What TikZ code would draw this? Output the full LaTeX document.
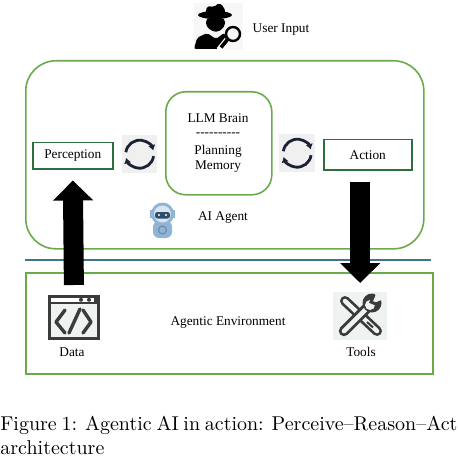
\documentclass[tikz,border=0pt]{standalone}
\usepackage{fontspec}
\usepackage{tikz}
\usetikzlibrary{positioning,arrows.meta}
\newfontfamily\figfont{Liberation Serif}
\definecolor{agentgreen}{HTML}{6BAA4C}
\definecolor{labelgreen}{HTML}{2F6E3E}
\definecolor{linkblue}{HTML}{3F7391}
\definecolor{iconnavy}{HTML}{1B2233}
\definecolor{icongrey}{HTML}{3A3C3C}
\definecolor{iconpale}{HTML}{EEF3F2}
\definecolor{robotblue}{HTML}{8FB4D6}
\definecolor{robotdark}{HTML}{2E4C70}
\begin{document}
\begin{tikzpicture}[x=1pt, y=-1pt,
   textlabel/.style={font=\figfont\fontsize{13.3}{16}\selectfont, inner sep=0pt},
   zonebox/.style={draw=agentgreen, line width=1.6pt, rectangle, inner sep=0pt, anchor=north west},
   labelbox/.style={draw=labelgreen, line width=1.5pt, rectangle, inner sep=0pt, anchor=north west, font=\figfont\fontsize{13.3}{16}\selectfont},
   iconbox/.style={rectangle, inner sep=0pt, anchor=north west},
   bigarrow/.style={line width=20pt, -{Triangle[width=39pt,length=20pt]}},
   cycleicon/.pic={
      \draw [iconnavy, line width=2.8pt, -{Latex[width=7.5pt,length=5.5pt]}] (188:14) arc[start angle=188, end angle=345, radius=14];
      \draw [iconnavy, line width=2.8pt, -{Latex[width=7.5pt,length=5.5pt]}] (8:14) arc[start angle=8, end angle=165, radius=14];
   }
]
\useasboundingbox (0,0) rectangle (457,465);

% Zones
\node [zonebox, rounded corners=30pt, minimum width=398pt, minimum height=188pt] (agentzone) at (25,60) {};
\node [zonebox, minimum width=407pt, minimum height=101pt] (envzone) at (25,272) {};
\coordinate (linkleft) at (25,260);
\coordinate (linkright) at (431,260);
\draw [linkblue, line width=1.2pt] (linkleft) -- (linkright);

% Boxes
\node [zonebox, rounded corners=20pt, minimum width=106pt, minimum height=103pt] (brain) at (165,91) {};
\node [textlabel, align=center] (brainname) at (218,118) {LLM Brain};
\node [textlabel] (braindash) at (218,135) {----------};
\node [textlabel] (brainplan) at (218,151) {Planning};
\node [textlabel] (brainmem) at (218,167) {Memory};
\node [labelbox, minimum width=80pt, minimum height=26pt] (perception) at (32,142) {Perception};
\node [labelbox, minimum width=88pt, minimum height=30pt] (action) at (323,139) {Action};

% Labels
\node [textlabel] (userlabel) at (281,30) {User Input};
\node [textlabel] (agentlabel) at (223,218) {AI Agent};
\node [textlabel] (envlabel) at (228,323) {Agentic Environment};
\node [textlabel] (datalabel) at (72,352) {Data};
\node [textlabel] (toolslabel) at (361,352) {Tools};

% Icon frames
\node [iconbox, fill=black!3, minimum width=49pt, minimum height=47pt] (usericon) at (194,3) {};
\node [iconbox, fill=black!6, minimum width=35pt, minimum height=38pt] (cycleleft) at (122,135) {};
\node [iconbox, fill=black!6, minimum width=36pt, minimum height=38pt] (cycleright) at (279,134) {};
\node [iconbox, minimum width=26pt, minimum height=33pt] (roboticon) at (149,205) {};
\node [iconbox, fill=iconpale, draw=icongrey, line width=3pt, minimum width=49pt, minimum height=42pt] (dataicon) at (48,295) {};
\node [iconbox, fill=iconpale, minimum width=54pt, minimum height=48pt] (toolsicon) at (333,292) {};

% Cycle icons
\pic at (cycleleft) {cycleicon};
\pic at (cycleright) {cycleicon};

% User icon
\fill [rounded corners=2pt] (205,16) -- (207,6) -- (214,7) -- (219,3) -- (224,7) -- (226,16) -- cycle;
\fill (215,15) ellipse[x radius=17, y radius=4];
\fill [rounded corners=4pt] (206,18) -- (225,18) -- (225,27) -- (216,33) -- (206,27) -- cycle;
\fill [rounded corners=2pt] (194,49) -- (197,38) -- (207,33) -- (216,39) -- (224,33) -- (227,37) -- (220,49) -- cycle;
\draw [black, line width=2.4pt] (233,34) circle[radius=7];
\draw [white, line width=6pt] (227,40) -- (219,50);
\draw [black, line width=3.6pt] (227.5,39.5) -- (221,47.5);

% Robot icon
\fill [robotblue, rounded corners=6pt] (153,221) rectangle (172,238);
\fill [robotblue] (149.5,210) rectangle (175,218);
\fill [robotblue] (162.5,214) circle[radius=11.5];
\fill [white!65!robotblue] (162.5,214) circle[radius=8.5];
\fill [robotdark, rounded corners=2.5pt] (155,212) rectangle (170,218.5);
\fill [white] (159,215) circle[radius=1.2];
\fill [white] (166,215) circle[radius=1.2];
\draw [robotdark!70, line width=0.9pt] (162.5,230) circle[radius=4];

% Data icon
\fill [icongrey] (48,295) rectangle (97,304);
\fill [white] (51,297.5) rectangle (94,302);
\fill [icongrey] (81,299.8) circle[radius=2];
\fill [icongrey] (89,299.8) circle[radius=2];
\draw [icongrey, line width=3.4pt, line cap=round, line join=round] (65,310) -- (56,322) -- (65,333);
\draw [icongrey, line width=3.4pt, line cap=round] (69,333) -- (80,309);
\draw [icongrey, line width=3.4pt, line cap=round, line join=round] (83,310) -- (91,322) -- (83,333);

% Tools icon
\draw [icongrey, line width=10pt, line cap=round] (345,301) -- (377,331);
\draw [iconpale, line width=4.5pt, line cap=round] (345,301) -- (377,331);
\draw [icongrey, line width=2pt] (367,322) -- (373,327.5);
\draw [icongrey, line width=10.5pt, line cap=round] (344,331) -- (369,306);
\draw [iconpale, line width=4.6pt, line cap=round] (344,331) -- (369,306);
\fill [icongrey] (372,303) circle[radius=9.5];
\fill [iconpale] (370,305) circle[radius=5];
\fill [iconpale] (371,304) -- (374,293) -- (384,299) -- cycle;
\draw [icongrey, line width=3pt, line cap=round] (374,295) -- (371,302) -- (378,305);

% Connections
\draw [bigarrow, shorten <=10pt, shorten >=11pt] (dataicon.north) -- (perception.south);
\draw [bigarrow, shorten <=11pt, shorten >=9pt] (toolsicon.north |- action.south) -- (toolsicon.north);

% Caption
\node [scale=2, inner sep=0pt, anchor=north west, text width=228.5pt, align=justify] (caption) at (0,416) {Figure 1: Agentic AI in action: Perceive--Reason--Act architecture};
\end{tikzpicture}
\end{document}
